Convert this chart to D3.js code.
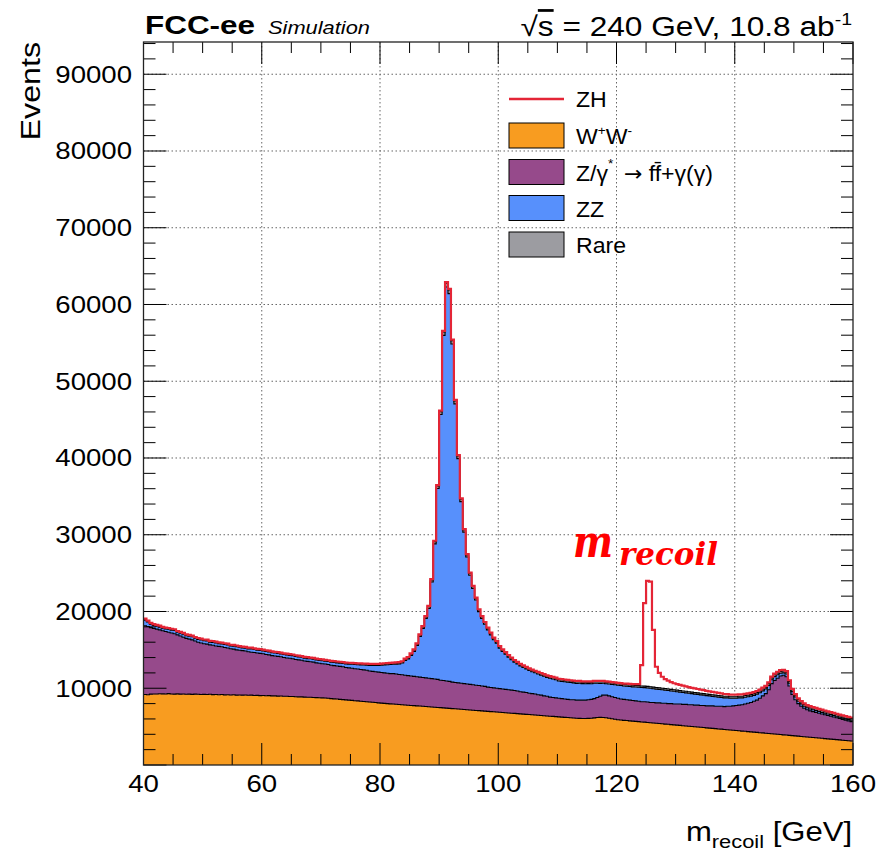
<!DOCTYPE html>
<html><head><meta charset="utf-8">
<script src="https://cdn.jsdelivr.net/npm/d3@7"></script>
<style>body{margin:0;background:#fff}</style>
</head><body>
<svg id="c" width="879" height="857"></svg>
<script>
// ---------------- DATA (0.5 GeV bins, 40 -> 160 GeV) ----------------
const binLow = 40, binWidth = 0.5, nBins = 240;
const ww = [
9180,9150,9230,9260,9250,9280,9270,9250,9300,9260,9240,9270,9230,9250,9220,9240,9200,9230,9210,9190,
9200,9180,9210,9170,9190,9150,9180,9140,9160,9120,9150,9110,9130,9100,9120,9080,9100,9060,9070,9040,
9050,9020,9040,9000,9010,8980,8990,8950,8960,8920,8930,8900,8880,8870,8850,8830,8820,8790,8780,8760,
8750,8720,8690,8650,8620,8590,8550,8520,8480,8450,8420,8380,8350,8310,8280,8240,8210,8170,8140,8100,
8060,8030,8000,7970,7940,7910,7880,7850,7820,7790,7760,7730,7700,7680,7650,7620,7590,7560,7530,7500,
7470,7440,7410,7380,7350,7320,7290,7260,7230,7200,7170,7140,7110,7080,7050,7020,6990,6960,6930,6900,
6870,6840,6810,6780,6750,6720,6690,6660,6630,6600,6570,6540,6510,6480,6450,6420,6390,6360,6330,6300,
6270,6240,6210,6180,6150,6130,6100,6080,6060,6050,6070,6100,6140,6180,6200,6190,6150,6090,6020,5960,
5900,5860,5820,5790,5750,5720,5680,5650,5610,5580,5540,5510,5470,5440,5400,5370,5330,5300,5260,5230,
5190,5160,5120,5090,5050,5020,4980,4950,4910,4880,4840,4810,4770,4740,4700,4670,4630,4600,4560,4530,
4490,4460,4420,4390,4350,4320,4280,4250,4210,4180,4140,4110,4070,4040,4000,3970,3930,3900,3860,3830,
3790,3760,3720,3690,3650,3620,3580,3550,3510,3480,3440,3410,3370,3340,3300,3270,3230,3200,3160,3130];
const zgamma = [
8970,8900,8670,8540,8450,8320,8230,8150,8000,7940,7860,7680,7570,7400,7280,7160,7100,6920,6790,6710,
6600,6570,6440,6430,6310,6300,6220,6160,6090,6030,5950,5890,5820,5800,5730,5670,5600,5590,5530,5510,
5450,5380,5310,5250,5190,5170,5110,5050,4990,4980,4920,4850,4820,4780,4700,4670,4630,4610,4520,4490,
4450,4430,4410,4350,4330,4310,4300,4280,4220,4200,4180,4170,4150,4140,4120,4110,4040,4030,4010,4000,
3990,3970,3950,3930,3960,3940,3920,3900,3880,3860,3840,3820,3800,3770,3750,3730,3710,3690,3670,3650,
3580,3560,3540,3520,3450,3430,3410,3390,3370,3350,3330,3310,3290,3270,3250,3230,3160,3140,3120,3100,
3080,3060,3040,3020,3000,2980,2960,2890,2870,2850,2780,2760,2740,2670,2650,2580,2560,2490,2470,2450,
2430,2410,2390,2370,2350,2370,2350,2370,2390,2400,2430,2450,2510,2620,2750,2910,2950,2910,2880,2840,
2800,2740,2730,2710,2700,2680,2670,2650,2640,2670,2660,2640,2680,2660,2700,2680,2720,2700,2740,2720,
2760,2790,2780,2810,2800,2830,2820,2850,2840,2870,2860,2890,2930,2910,2950,2980,2970,3050,3090,3170,
3260,3340,3430,3560,3700,3830,4020,4200,4490,4820,5160,5690,6530,6960,7300,7630,7770,7600,6440,5370,
4710,4240,3930,3710,3550,3430,3370,3300,3240,3170,3110,3040,2980,2910,2850,2780,2720,2650,2590,2520];
const zz = [
720,580,430,390,380,370,330,340,380,370,420,350,380,400,340,380,410,360,370,390,
380,420,350,380,410,360,370,400,390,350,370,400,390,360,380,370,410,390,350,370,
360,380,390,370,400,380,360,390,380,370,400,380,370,390,380,360,390,380,400,380,
380,370,380,400,400,410,420,430,470,480,520,540,560,600,630,660,730,780,820,880,
960,1050,1110,1200,1220,1290,1380,1540,1930,2180,2680,3250,4080,5290,6390,7730,9090,12590,17610,24870,
34610,44980,51330,50520,44060,36300,29220,23670,19740,16550,14220,12540,11090,9630,8810,8080,7460,6860,6270,5880,
5280,4890,4600,4260,3970,3710,3520,3360,3210,3070,2960,2850,2760,2710,2600,2560,2450,2460,2400,2350,
2250,2240,2250,2250,2240,2200,2190,2200,2150,2140,2100,2040,2000,1850,1690,1550,1490,1550,1590,1650,
1690,1750,1740,1780,1790,1780,1820,1850,1840,1830,1840,1850,1790,1780,1740,1750,1690,1700,1640,1650,
1590,1550,1540,1500,1490,1450,1440,1400,1390,1350,1340,1300,1240,1250,1190,1150,1140,1100,1040,1000,
940,950,890,880,840,830,770,780,720,660,620,560,500,510,450,360,300,360,350,360,
360,300,310,250,260,250,240,230,220,210,210,200,210,190,200,190,190,180,190,180];
const rare = [
130,120,120,110,120,130,120,110,120,130,120,110,120,120,130,120,110,120,130,120,
120,110,130,120,110,120,130,120,110,120,130,120,110,120,120,130,120,110,120,130,
120,120,110,130,100,120,140,110,120,130,100,120,130,110,120,140,110,120,100,120,
120,130,120,120,130,120,130,120,130,140,130,140,140,130,140,140,150,140,150,150,
150,150,160,150,160,160,170,160,170,170,180,180,190,200,210,220,240,260,290,330,
380,440,480,470,430,380,340,300,280,260,250,240,230,220,210,210,200,200,190,190,
190,190,180,190,180,190,180,190,190,180,190,200,190,190,200,190,200,190,200,200,
200,210,200,200,210,200,210,200,200,210,200,210,200,200,210,200,210,200,210,200,
210,200,210,200,210,220,210,200,210,200,210,200,210,220,210,200,210,200,210,200,
210,200,210,200,210,200,210,200,210,200,210,200,210,200,210,200,210,200,210,200,
210,200,210,220,210,220,230,220,230,240,230,240,250,240,250,240,250,240,250,240,
240,250,240,250,240,250,240,250,240,250,240,250,240,250,240,250,240,250,240,250];
const zh = [
60,50,55,50,45,50,55,45,50,50,45,50,55,45,50,50,45,50,50,45,
50,45,50,55,45,50,50,45,55,50,45,50,50,55,45,50,50,45,50,55,
50,50,45,55,50,45,50,55,50,45,50,50,55,45,50,50,45,55,50,50,
50,55,45,50,50,55,50,45,50,55,50,50,45,55,50,50,55,50,45,50,
50,55,50,60,55,60,60,65,70,70,75,80,85,90,95,100,105,110,115,120,
130,140,150,150,140,130,120,115,110,105,100,100,95,95,90,90,90,85,85,85,
85,85,85,80,80,80,80,80,80,80,80,80,80,80,85,85,85,85,90,90,
90,90,90,95,95,95,95,100,100,100,100,100,100,105,105,105,105,110,110,110,
100,110,110,120,120,130,150,200,2700,10800,13750,13700,7450,2700,1950,1500,1250,1100,950,850,
800,750,700,650,600,560,530,500,470,450,420,400,380,360,340,320,300,290,280,270,
260,250,240,230,220,210,200,190,180,180,170,170,160,160,150,150,150,140,140,130,
130,120,120,120,110,110,110,100,100,100,100,90,90,90,90,80,80,80,80,80];
const xTickLabels = [40, 60, 80, 100, 120, 140, 160];
const yTickLabels = [10000, 20000, 30000, 40000, 50000, 60000, 70000, 80000, 90000];
const yMax = 94200;

// ---------------- LAYOUT ----------------
const M = {l:143.5, r:853, t:42, b:765};
const SANS = '"Liberation Sans",Arial,Helvetica,sans-serif';
const SERIF = '"DejaVu Serif",serif';
const SX = 1.2; // horizontal stretch of ROOT axis text
const C = {ww:'#f89c20', zg:'#964a8b', zz:'#5790fc', rare:'#9c9ca1', zh:'#e42536'};

const svg = d3.select('#c');
const x = d3.scaleLinear().domain([40,160]).range([M.l, M.r]);
const y = d3.scaleLinear().domain([0, yMax]).range([M.b, M.t]);

const edges = d3.range(nBins + 1).map(i => binLow + i * binWidth);
const rows = d3.range(nBins).map(i => ({ww:ww[i], zg:zgamma[i], zz:zz[i], rare:rare[i]}));
const stacked = d3.stack().keys(['ww','zg','zz','rare'])(rows);

svg.append('defs').append('clipPath').attr('id','clip')
  .append('rect').attr('x',M.l).attr('y',M.t).attr('width',M.r-M.l).attr('height',M.b-M.t);

// grid
const grid = svg.append('g').attr('stroke','#666').attr('stroke-width',1).attr('stroke-dasharray','1.5,2.5');
grid.selectAll('.gx').data(xTickLabels.slice(1,-1)).join('line')
  .attr('x1',d=>x(d)).attr('x2',d=>x(d)).attr('y1',M.t).attr('y2',M.b);
grid.selectAll('.gy').data(yTickLabels).join('line')
  .attr('x1',M.l).attr('x2',M.r).attr('y1',d=>y(d)).attr('y2',d=>y(d));

// stack
const plot = svg.append('g').attr('clip-path','url(#clip)');
function pts(lo, hi){ return edges.map((e,i)=>{const k=Math.min(i,nBins-1); return {e, lo:lo(k), hi:hi(k)};}); }
const areaGen = d3.area().curve(d3.curveStepAfter).x(p=>x(p.e)).y0(p=>y(p.lo)).y1(p=>y(p.hi));
const lineGen = d3.line().curve(d3.curveStepAfter).x(p=>x(p.e)).y(p=>y(p.hi));
stacked.forEach(layer=>{
  const p = pts(k=>layer[k][0], k=>layer[k][1]);
  plot.append('path').attr('d',areaGen(p)).attr('fill',C[layer.key]).attr('stroke',C[layer.key]).attr('stroke-width',0.6);
});
stacked.forEach(layer=>{
  const p = pts(k=>layer[k][0], k=>layer[k][1]);
  plot.append('path').attr('d',lineGen(p)).attr('fill','none').attr('stroke','#000').attr('stroke-width',1.1);
});
const topLayer = stacked[stacked.length-1];
const pz = pts(k=>0, k=>topLayer[k][1] + zh[k]);
plot.append('path').attr('d',lineGen(pz)).attr('fill','none').attr('stroke',C.zh).attr('stroke-width',2.2);

// axes ticks
const ax = svg.append('g').attr('stroke','#000').attr('stroke-width',1);
const xMinor = d3.range(40,160.01,5), yMinor = d3.range(0,yMax,2000);
xMinor.forEach(v=>{
  const L = (v%20===0)?22:11;
  ax.append('line').attr('x1',x(v)).attr('x2',x(v)).attr('y1',M.b).attr('y2',M.b-L);
  ax.append('line').attr('x1',x(v)).attr('x2',x(v)).attr('y1',M.t).attr('y2',M.t+L);
});
yMinor.forEach(v=>{
  const L = (v%10000===0)?23:12;
  ax.append('line').attr('x1',M.l).attr('x2',M.l+L).attr('y1',y(v)).attr('y2',y(v));
  ax.append('line').attr('x1',M.r).attr('x2',M.r-L).attr('y1',y(v)).attr('y2',y(v));
});
svg.append('rect').attr('x',M.l).attr('y',M.t).attr('width',M.r-M.l).attr('height',M.b-M.t)
  .attr('fill','none').attr('stroke','#222').attr('stroke-width',1.3);

// text helper
function T(px,py,opts){
  const t = svg.append('text').attr('transform',`translate(${px},${py}) ${opts.rot?`rotate(${opts.rot})`:''} scale(${opts.sx||1},1)`)
    .style('font-family', opts.family || SANS)
    .attr('font-size',opts.size).attr('text-anchor',opts.anchor||'start').attr('fill',opts.fill||'#000');
  if(opts.weight) t.attr('font-weight',opts.weight);
  if(opts.style) t.attr('font-style',opts.style);
  if(opts.len) t.attr('textLength',opts.len).attr('lengthAdjust','spacingAndGlyphs');
  if(opts.text!==undefined) t.text(opts.text);
  return t;
}
// tick labels
xTickLabels.forEach(v=>T(x(v),792,{size:23,anchor:'middle',sx:SX,text:String(v)}));
yTickLabels.forEach(v=>T(132,y(v)+8.3,{size:23,anchor:'end',sx:SX,text:String(v)}));

// axis titles
T(40,42,{size:28,anchor:'end',rot:-90,sx:1.15,text:'Events'});
const xt = T(852,841,{size:27,anchor:'end',sx:1.15});
xt.append('tspan').text('m');
xt.append('tspan').attr('font-size',19).attr('dy',7).text('recoil');
xt.append('tspan').attr('dy',-7).text(' [GeV]');

// header
T(145,34,{size:25.5,weight:'bold',len:110,text:'FCC-ee'});
T(268,34,{size:17.5,style:'italic',len:102,text:'Simulation'});
const hd = T(852,36,{size:27.5,anchor:'end',sx:1.15});
hd.append('tspan').text('\u221A');
hd.append('tspan').attr('text-decoration','overline').text('s');
hd.append('tspan').text(' = 240 GeV, 10.8 ab');
hd.append('tspan').attr('font-size',17).attr('dy',-11).text('-1');

// legend
const LX = 509, LW = 55, LH = 25, TX = 576;
const legendRows = [
  {key:'zh', cy:99},
  {key:'ww', cy:135.5},
  {key:'zg', cy:172},
  {key:'zz', cy:208},
  {key:'rare', cy:244.5}];
legendRows.forEach(r=>{
  if(r.key==='zh'){
    svg.append('line').attr('x1',LX).attr('x2',LX+LW).attr('y1',r.cy).attr('y2',r.cy).attr('stroke',C.zh).attr('stroke-width',2.4);
  } else {
    svg.append('rect').attr('x',LX).attr('y',r.cy-LH/2).attr('width',LW).attr('height',LH)
      .attr('fill',C[r.key]).attr('stroke','#000').attr('stroke-width',1);
  }
});
T(TX,107.3,{size:22,sx:1.05,text:'ZH'});
const lw = T(TX,144,{size:22,sx:1.05});
lw.append('tspan').text('W'); lw.append('tspan').attr('font-size',13).attr('dy',-9).text('+');
lw.append('tspan').attr('dy',9).text('W'); lw.append('tspan').attr('font-size',13).attr('dy',-9).text('-');
const lz = T(TX,180.5,{size:22,sx:1.05});
lz.append('tspan').text('Z/\u03B3'); lz.append('tspan').attr('font-size',13).attr('dy',-13).text('*');
lz.append('tspan').attr('dy',13).attr('dx',10).style('font-family','"DejaVu Sans",sans-serif').attr('font-size',21).text('\u2192');
lz.append('tspan').attr('dx',6).text('ff\u0304+\u03B3(\u03B3)');
T(TX,216.5,{size:22,sx:1.05,text:'ZZ'});
T(TX,253,{size:22,sx:1.05,text:'Rare'});

// annotation
T(573,557,{size:44,weight:'bold',style:'italic',family:SERIF,fill:'#f00',len:40,text:'m'});
T(619,565,{size:31,weight:'bold',style:'italic',family:SERIF,fill:'#f00',len:99,text:'recoil'});
</script>
</body></html>
